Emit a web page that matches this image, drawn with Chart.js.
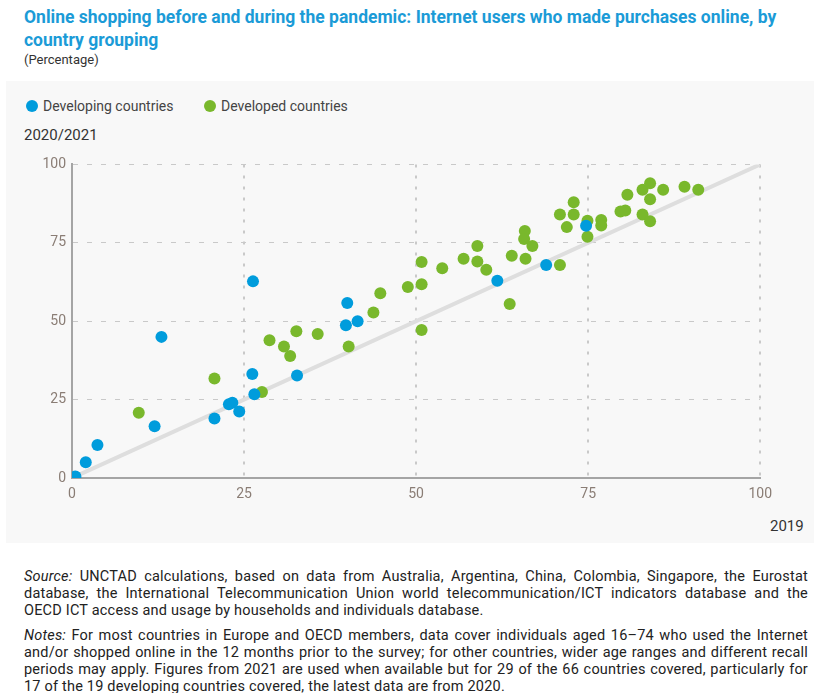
<!DOCTYPE html>
<html>
<head>
<meta charset="utf-8">
<script src="https://cdn.jsdelivr.net/npm/chart.js@4.4.1/dist/chart.umd.min.js"></script>
<style>
  body { margin:0; background:#fff; width:814px; height:693px; position:relative; overflow:hidden; font-family:Roboto, sans-serif; }
  .title { position:absolute; left:24px; top:6px; width:790px; color:#1b9bd7; font-weight:bold; font-size:17.5px; line-height:23px; }
  .unit { position:absolute; left:24px; top:52px; color:#333; font-size:13px; }
  .panel { position:absolute; left:6px; top:81px; width:808px; height:462px; background:#f8f8f8; }
  .legend { position:absolute; top:98px; font-size:14px; color:#444; }
  .legend span.dot { display:inline-block; width:12px; height:12px; border-radius:50%; vertical-align:-1px; margin-right:5px; }
  .ylab { position:absolute; left:24px; top:126px; font-size:15px; color:#333; }
  .xlab { position:absolute; left:770px; top:517px; font-size:15px; color:#333; }
  .chartbox { position:absolute; left:30px; top:150px; width:750px; height:360px; }
  .notes { position:absolute; left:24px; top:568px; width:784px; font-size:14.5px; letter-spacing:0.2px; line-height:17px; color:#222; text-align:justify; }
  .notes p { margin:0 0 8px 0; }
</style>
</head>
<body>
<div class="title">Online shopping before and during the pandemic: Internet users who made purchases online, by country grouping</div>
<div class="unit">(Percentage)</div>
<div class="panel"></div>
<div class="legend" style="left:26px"><span class="dot" style="background:#009cdc"></span>Developing countries</div>
<div class="legend" style="left:204px"><span class="dot" style="background:#79b82c"></span>Developed countries</div>
<div class="ylab">2020/2021</div>
<div class="xlab">2019</div>
<div class="chartbox"><canvas id="myChart"></canvas></div>
<div class="notes">
<p><i>Source:</i> UNCTAD calculations, based on data from Australia, Argentina, China, Colombia, Singapore, the Eurostat database, the International Telecommunication Union world telecommunication/ICT indicators database and the OECD ICT access and usage by households and individuals database.</p>
<p><i>Notes:</i> For most countries in Europe and OECD members, data cover individuals aged 16–74 who used the Internet and/or shopped online in the 12 months prior to the survey; for other countries, wider age ranges and different recall periods may apply. Figures from 2021 are used when available but for 29 of the 66 countries covered, particularly for 17 of the 19 developing countries covered, the latest data are from 2020.</p>
</div>
<script>
// data: x = 2019, y = 2020/2021
const developing2019 = [0.5, 2, 3.7, 13, 12, 20.7, 22.8, 23.3, 24.3, 26.2, 26.5, 26.3, 32.7, 39.8, 40, 41.5, 61.8, 68.9, 74.7];
const developing2021 = [0.5, 5, 10.5, 45, 16.5, 19, 23.5, 24, 21.2, 33.2, 26.7, 62.7, 32.7, 48.7, 55.8, 50, 62.9, 67.9, 80.4];
const developed2019 = [9.7, 20.7, 27.6, 28.7, 30.8, 31.7, 32.6, 35.7, 40.2, 43.8, 50.8, 63.6, 44.8, 48.8, 50.8, 50.8, 53.8, 56.9, 58.9, 58.9, 60.2, 63.9, 65.8, 65.7, 65.9, 66.9, 70.9, 71.9, 70.9, 72.9, 72.9, 74.9, 74.9, 76.9, 76.9, 79.7, 80.4, 80.7, 82.9, 84, 84, 82.9, 84, 85.9, 89, 91];
const developed2021 = [20.8, 31.7, 27.4, 43.9, 41.9, 38.9, 46.8, 45.9, 41.9, 52.8, 47.2, 55.5, 58.9, 60.9, 61.8, 68.9, 66.9, 69.9, 69, 74, 66.4, 70.9, 78.8, 76.2, 69.9, 74, 67.9, 80, 84, 84, 87.9, 82, 76.9, 82.3, 80.5, 85, 85.3, 90.3, 91.9, 94, 88.9, 84, 81.9, 91.9, 92.9, 91.9];
const tickValues = [0, 25, 50, 75, 100];
const diagonal = [0, 100];

function toPoints(xs, ys) {
  return xs.map((x, i) => ({x: x, y: ys[i]}));
}

const gridColor = (ctx) => ctx.tick && ctx.tick.value === 0 ? 'rgba(0,0,0,0)' : '#c9c9c9';

const ctx = document.getElementById('myChart').getContext('2d');
let myChart = new Chart(ctx, {
  type: 'scatter',
  data: {
    datasets: [
      {
        label: 'Developing countries',
        data: toPoints(developing2019, developing2021),
        backgroundColor: '#009cdc',
        borderWidth: 0,
        pointRadius: 6,
        order: 1
      },
      {
        label: 'Developed countries',
        data: toPoints(developed2019, developed2021),
        backgroundColor: '#79b82c',
        borderWidth: 0,
        pointRadius: 6,
        order: 2
      },
      {
        type: 'line',
        label: 'diagonal',
        data: toPoints(diagonal, diagonal),
        borderColor: '#dedede',
        borderWidth: 4,
        pointRadius: 0,
        order: 3
      }
    ]
  },
  options: {
    responsive: true,
    maintainAspectRatio: false,
    animation: false,
    layout: { padding: { top: 12, right: 18, left: 0, bottom: 0 } },
    plugins: { legend: { display: false }, tooltip: { enabled: false } },
    scales: {
      x: {
        type: 'linear', min: 0, max: 100,
        afterBuildTicks: (axis) => { axis.ticks = tickValues.map(v => ({value: v})); },
        afterFit: (axis) => { axis.height = 32; },
        grid: { color: gridColor, lineWidth: 2, drawTicks: false },
        border: { display: true, color: '#a5a5a5', width: 2, dash: [3, 8] },
        ticks: { color: '#8a7d75', font: { family: 'Roboto', size: 14 }, padding: 8 }
      },
      y: {
        type: 'linear', min: 0, max: 100,
        afterBuildTicks: (axis) => { axis.ticks = tickValues.map(v => ({value: v})); },
        afterFit: (axis) => { axis.width = 42; },
        grid: { color: gridColor, lineWidth: 1, drawTicks: false },
        border: { display: true, color: '#a5a5a5', width: 2, dash: [5, 9] },
        ticks: { color: '#8a7d75', font: { family: 'Roboto', size: 14 }, padding: 6 }
      }
    }
  }
});
</script>
</body>
</html>
